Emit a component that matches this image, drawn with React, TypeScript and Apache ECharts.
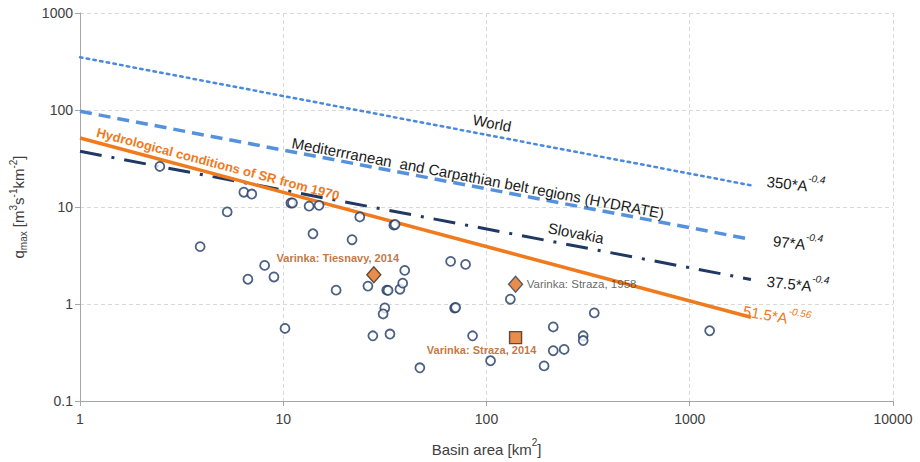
import React, { useEffect, useRef } from "react";
import * as echarts from "echarts";

// Basin area [km2], qmax [m3 s-1 km-2]
const circlePoints: number[][] = [
  [2.47, 26.2], [5.3, 8.9], [6.4, 14.2], [7.0, 13.6], [10.9, 11.0], [11.1, 11.0],
  [3.9, 3.9], [6.7, 1.8], [8.1, 2.5], [9.0, 1.9], [10.2, 0.56],
  [13.4, 10.2], [15.0, 10.4], [23.8, 7.9], [35.0, 6.5], [35.5, 6.6], [14.0, 5.3], [21.8, 4.6],
  [18.2, 1.39], [26.1, 1.53], [32.3, 1.39], [32.8, 1.38], [37.5, 1.42], [38.7, 1.64], [39.6, 2.22],
  [31.6, 0.91], [31.0, 0.79], [27.6, 0.47], [33.5, 0.49],
  [66.6, 2.75], [78.9, 2.56], [69.7, 0.91], [70.5, 0.92], [85.4, 0.47], [47, 0.22], [104.7, 0.26],
  [192, 0.23], [131, 1.12], [213, 0.58], [213, 0.33], [241, 0.34], [299, 0.47], [299, 0.42],
  [339, 0.81], [1253, 0.53],
];
const tiesnavy2014: number[][] = [[27.9, 2.0]];
const straza1958: number[][] = [[139, 1.6]];
const straza2014: number[][] = [[139, 0.45]];

// envelope curves (end points, A = 1 and A = 2000)
const worldLine: number[][] = [[1, 350], [2000, 16.74]];
const hydrateLine: number[][] = [[1, 97], [2000, 4.64]];
const slovakiaLine: number[][] = [[1, 37.5], [2000, 1.79]];
const srLine: number[][] = [[1, 51.5], [2000, 0.729]];

const xTicks = [1, 10, 100, 1000, 10000];
const yTicks = [0.1, 1, 10, 100, 1000];

const FONT = "Liberation Sans, Arial, sans-serif";
const NAVY = "#1f3864";
const ORANGE = "#f07a1e";
const BROWN = "#b4530f";
const GREY_TXT = "#404040";

export default function App() {
  const ref = useRef<HTMLDivElement>(null);
  useEffect(() => {
    document.body.style.margin = "0";
    const chart = echarts.init(ref.current!, null, { renderer: "svg" });
    const deg = (d: number) => (d * Math.PI) / 180;
    const eqRich = (color: string) => ({
      a: { fontSize: 15, fill: color, fontFamily: FONT, lineHeight: 20, verticalAlign: "bottom" },
      s: { fontSize: 10, fill: color, fontFamily: FONT, fontStyle: "italic", lineHeight: 20, verticalAlign: "top" },
    });
    const option: any = {
      animation: false,
      grid: { left: 77, right: 27, top: 13, bottom: 57 },
      xAxis: {
        type: "log",
        logBase: 10,
        min: xTicks[0],
        max: xTicks[xTicks.length - 1],
        name: "{a|Basin area [km}{s|2}{a|]}",
        nameLocation: "middle",
        nameGap: 36,
        nameTextStyle: {
          rich: {
            a: { fontSize: 15, color: GREY_TXT, fontFamily: FONT, lineHeight: 20, verticalAlign: "bottom" },
            s: { fontSize: 10, color: GREY_TXT, fontFamily: FONT, lineHeight: 20, verticalAlign: "top" },
          },
        },
        axisLine: { show: true, lineStyle: { color: "#a6a6a6", width: 1 } },
        axisTick: { show: true, length: 5, lineStyle: { color: "#a6a6a6" } },
        minorTick: { show: false },
        axisLabel: { color: GREY_TXT, fontSize: 14, fontFamily: FONT, margin: 11, formatter: (v: number) => String(v) },
        splitLine: { show: true, lineStyle: { color: "#d9d9d9", type: [4, 3], width: 1 } },
      },
      yAxis: {
        type: "log",
        logBase: 10,
        min: yTicks[0],
        max: yTicks[yTicks.length - 1],
        name: "{a|q}{b|max}{a| [m}{s|3}{a|s}{s|-1}{a|km}{s|-2}{a|]}",
        nameLocation: "middle",
        nameRotate: 90,
        nameGap: 52,
        nameTextStyle: {
          rich: {
            a: { fontSize: 15, color: GREY_TXT, fontFamily: FONT, lineHeight: 20, verticalAlign: "middle" },
            b: { fontSize: 10, color: GREY_TXT, fontFamily: FONT, lineHeight: 20, verticalAlign: "bottom" },
            s: { fontSize: 10, color: GREY_TXT, fontFamily: FONT, lineHeight: 20, verticalAlign: "top" },
          },
        },
        axisLine: { show: true, lineStyle: { color: "#a6a6a6", width: 1 } },
        axisTick: { show: true, length: 5, lineStyle: { color: "#a6a6a6" } },
        minorTick: { show: false },
        axisLabel: { color: GREY_TXT, fontSize: 14, fontFamily: FONT, margin: 7, formatter: (v: number) => String(v) },
        splitLine: { show: true, lineStyle: { color: "#d9d9d9", type: [4, 3], width: 1 } },
      },
      series: [
        {
          type: "line", data: worldLine, symbol: "none", z: 3,
          lineStyle: { color: "#4a89dc", width: 2.5, type: [2.5, 4.3], cap: "round" },
        },
        {
          type: "line", data: hydrateLine, symbol: "none", z: 3,
          lineStyle: { color: "#5592dd", width: 3.5, type: [12, 7] },
        },
        {
          type: "line", data: slovakiaLine, symbol: "none", z: 3,
          lineStyle: { color: NAVY, width: 3, type: [22, 10, 3, 10] },
        },
        {
          type: "line", data: srLine, symbol: "none", z: 4,
          lineStyle: { color: ORANGE, width: 3.5 },
        },
        {
          type: "scatter", data: circlePoints, symbol: "circle", symbolSize: 9, z: 5,
          itemStyle: { color: "#ffffff", borderColor: NAVY, borderWidth: 1.8 },
        },
        {
          type: "scatter", data: tiesnavy2014, symbol: "diamond", symbolSize: [14, 16], z: 6,
          itemStyle: { color: "#e2701d", borderColor: "#3a2a20", borderWidth: 1.4 },
          label: {
            show: true, position: "inside", offset: [-36, -17], formatter: "Varinka: Tiesnavy, 2014",
            color: BROWN, fontWeight: "bold", fontSize: 11, fontFamily: FONT,
          },
        },
        {
          type: "scatter", data: straza1958, symbol: "diamond", symbolSize: [14, 16], z: 6,
          itemStyle: { color: "#e2701d", borderColor: "#2c3e60", borderWidth: 1.4 },
          label: {
            show: true, position: "inside", offset: [66, 0], formatter: "Varinka: Straza, 1958",
            color: GREY_TXT, fontSize: 11.5, fontFamily: FONT,
          },
        },
        {
          type: "scatter", data: straza2014, symbol: "rect", symbolSize: 12, z: 6,
          itemStyle: { color: "#e2701d", borderColor: "#3a2a20", borderWidth: 1.4 },
          label: {
            show: true, position: "inside", offset: [-34, 12], formatter: "Varinka: Straza, 2014",
            color: BROWN, fontWeight: "bold", fontSize: 11, fontFamily: FONT,
          },
        },
      ],
      graphic: [
        {
          type: "text", x: 492, y: 123, rotation: deg(-10.5), z: 10,
          style: { text: "World", fill: "#1a1a1a", font: `15px ${FONT}`, align: "center", verticalAlign: "middle" },
        },
        {
          type: "text", x: 478, y: 178, rotation: deg(-10.8), z: 10,
          style: { text: "Mediterrranean  and Carpathian belt regions (HYDRATE)", fill: "#1a1a1a", font: `15px ${FONT}`, align: "center", verticalAlign: "middle" },
        },
        {
          type: "text", x: 576, y: 233, rotation: deg(-10.8), z: 10,
          style: { text: "Slovakia", fill: "#1a1a1a", font: `15px ${FONT}`, align: "center", verticalAlign: "middle" },
        },
        {
          type: "text", x: 218, y: 164, rotation: deg(-14.8), z: 10,
          style: { text: "Hydrological conditions of SR from 1970", fill: ORANGE, font: `bold 13px ${FONT}`, align: "center", verticalAlign: "middle" },
        },
        {
          type: "text", x: 796, y: 182, rotation: deg(-6), z: 10,
          style: { text: "{a|350*A}{s|-0.4}", rich: eqRich("#1a1a1a"), align: "center", verticalAlign: "middle" },
        },
        {
          type: "text", x: 798, y: 241, rotation: deg(-6), z: 10,
          style: { text: "{a|97*A}{s|-0.4}", rich: eqRich("#1a1a1a"), align: "center", verticalAlign: "middle" },
        },
        {
          type: "text", x: 798, y: 282, rotation: deg(-6), z: 10,
          style: { text: "{a|37.5*A}{s|-0.4}", rich: eqRich("#1a1a1a"), align: "center", verticalAlign: "middle" },
        },
        {
          type: "text", x: 777, y: 314, rotation: deg(-10), z: 10,
          style: { text: "{a|51.5*A}{s|-0.56}", rich: eqRich(ORANGE), align: "center", verticalAlign: "middle" },
        },
      ],
    };
    chart.setOption(option);
    return () => chart.dispose();
  }, []);
  return <div ref={ref} style={{ width: 920, height: 462 }} />;
}
